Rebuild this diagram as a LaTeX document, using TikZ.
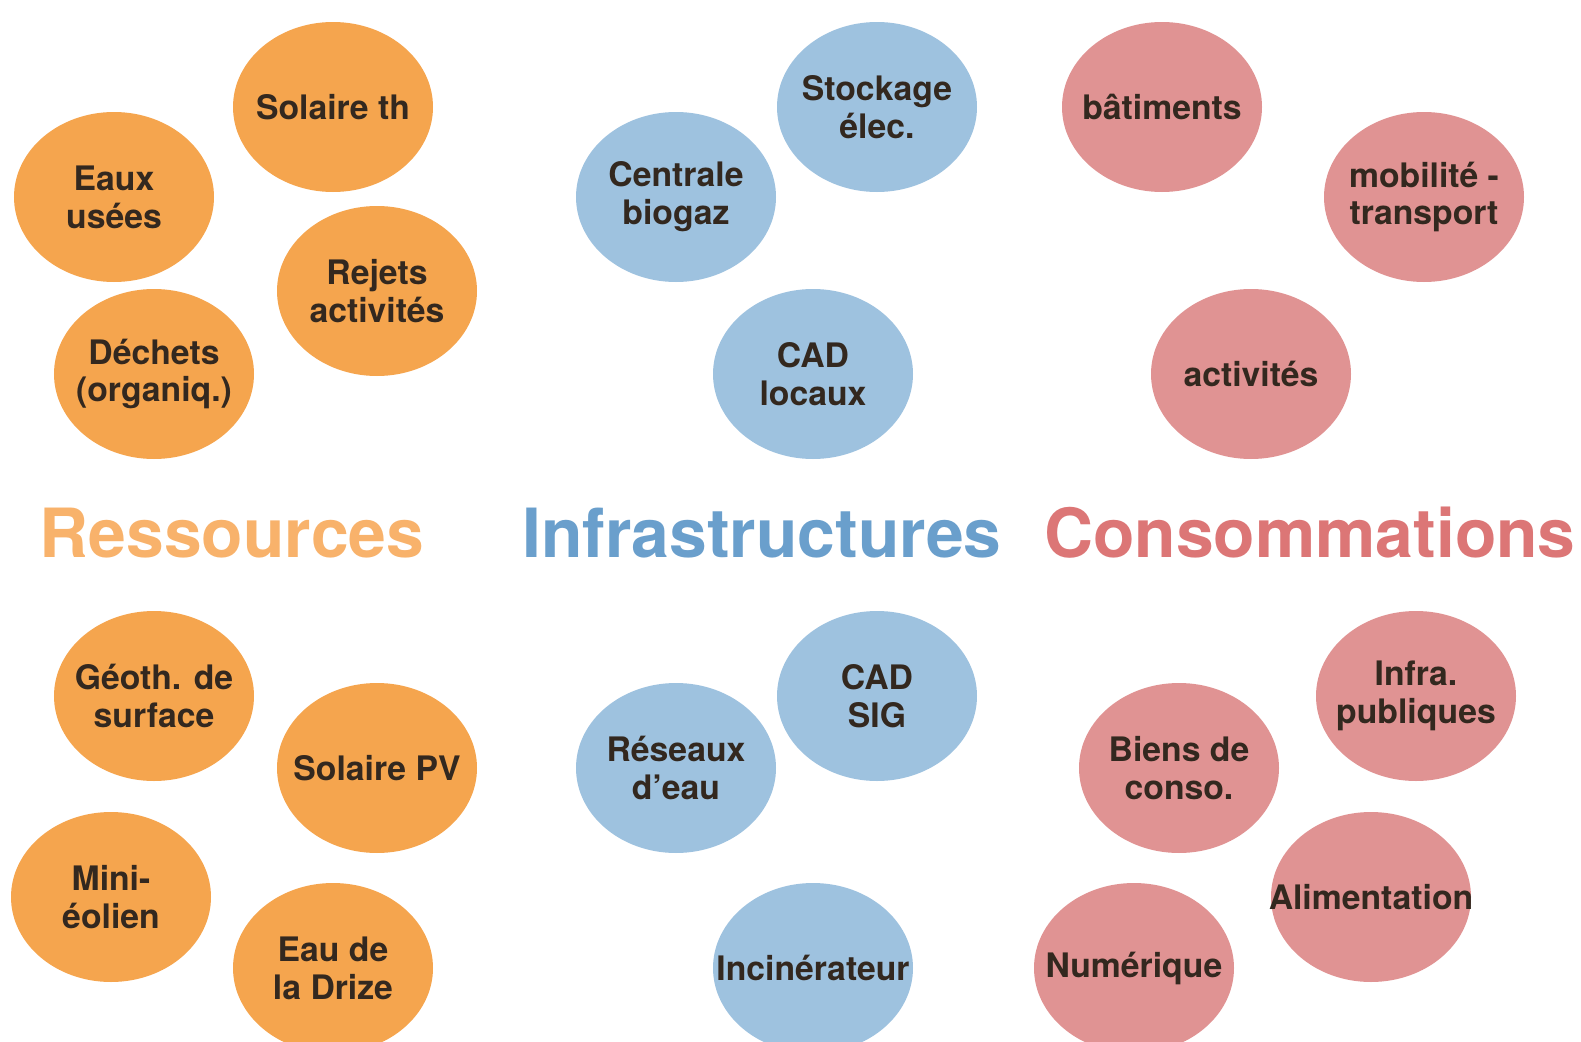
\documentclass[tikz,border=0pt]{standalone}
\usepackage{fontspec}
\setmainfont{TeX Gyre Heros}
\usetikzlibrary{shapes.geometric}

\definecolor{resfill}{HTML}{F5A54E}
\definecolor{infrafill}{HTML}{9EC2DF}
\definecolor{consofill}{HTML}{E09393}
\definecolor{restitle}{HTML}{F8B26B}
\definecolor{infratitle}{HTML}{6A9FCC}
\definecolor{consotitle}{HTML}{DC7676}
\definecolor{txt}{HTML}{33281F}

\begin{document}
\begin{tikzpicture}[
    bubble/.style={shape=ellipse, minimum width=2cm, minimum height=1.7cm, inner xsep=-4mm, inner ysep=0pt,
      align=center, text=txt, font=\fontsize{9.6}{10.8}\selectfont\bfseries},
    ressource/.style={bubble, fill=resfill},
    infra/.style={bubble, fill=infrafill},
    conso/.style={bubble, fill=consofill},
    title/.style={anchor=base, font=\fontsize{19.3}{22}\selectfont\bfseries},
  ]
    \useasboundingbox (0,0) rectangle (15.81,-10.42);

    % ressources
    \node[ressource] (solth) at (3.33,-1.07) {Solaire th};
    \node[ressource] (eaux) at (1.14,-1.97) {Eaux\\usées};
    \node[ressource] (rejets) at (3.77,-2.91) {Rejets\\activités};
    \node[ressource] (dechets) at (1.54,-3.74) {Déchets\\(organiq.)};
    \node[ressource] (geoth) at (1.54,-6.96) {Géoth. de\\surface};
    \node[ressource] (solpv) at (3.77,-7.68) {Solaire PV};
    \node[ressource] (eolien) at (1.11,-8.97) {Mini-\\éolien};
    \node[ressource] (drize) at (3.33,-9.68) {Eau de\\la Drize};

    % infrastructures
    \node[infra] (stockage) at (8.77,-1.07) {Stockage\\élec.};
    \node[infra] (biogaz) at (6.76,-1.97) {Centrale\\biogaz};
    \node[infra] (cadloc) at (8.13,-3.74) {CAD\\locaux};
    \node[infra] (cadsig) at (8.77,-6.96) {CAD\\SIG};
    \node[infra] (reseaux) at (6.76,-7.68) {Réseaux\\d’eau};
    \node[infra] (incin) at (8.13,-9.68) {Incinérateur};

    % consommations
    \node[conso] (batiments) at (11.62,-1.07) {bâtiments};
    \node[conso] (mobilite) at (14.24,-1.97) {mobilité -\\transport};
    \node[conso] (activites) at (12.51,-3.74) {activités};
    \node[conso] (infrapub) at (14.16,-6.96) {Infra.\\publiques};
    \node[conso] (biens) at (11.79,-7.68) {Biens de\\conso.};
    \node[conso] (aliment) at (13.71,-8.97) {Alimentation};
    \node[conso] (numerique) at (11.34,-9.68) {Numérique};

    % titres
    \node[title, text=restitle] (tres) at (2.32,-5.57) {Ressources};
    \node[title, text=infratitle] (tinfra) at (7.62,-5.57) {Infrastructures};
    \node[title, text=consotitle] (tconso) at (13.10,-5.57) {Consommations};

  \end{tikzpicture}
\end{document}
